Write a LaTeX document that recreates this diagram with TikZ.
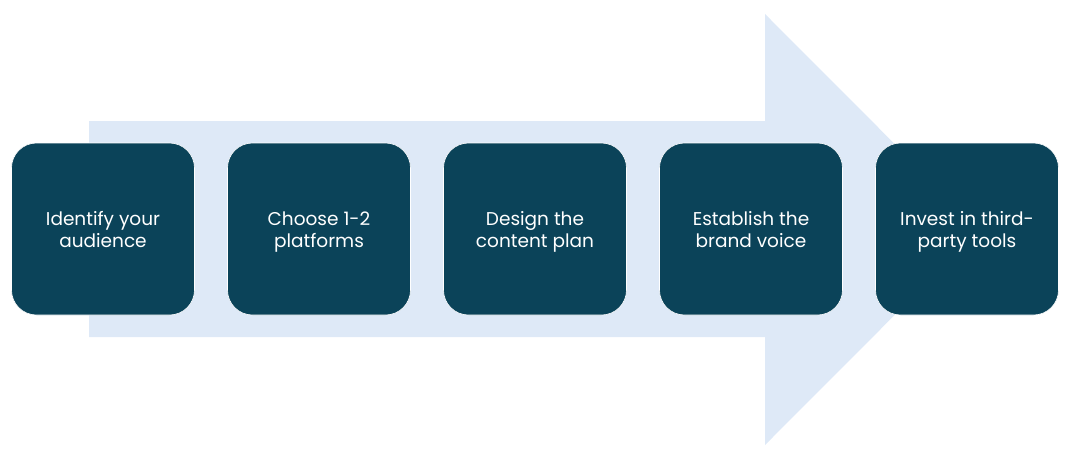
\documentclass[tikz,border=0pt]{standalone}
\usepackage{fontspec}
\setmainfont{Poppins}
\definecolor{boxc}{HTML}{0B4359}
\definecolor{arrowc}{HTML}{DEE9F7}
\newcommand\topstrut{\rule{0pt}{20.6pt}}
\newcommand\botstrut{\rule[-6.6pt]{0pt}{6.6pt}}
\begin{document}
\begin{tikzpicture}[x=1pt,y=-1pt,
  stepbox/.style={fill=boxc,draw=white,line width=0.6pt,rounded corners=25pt,minimum width=183pt,minimum height=172pt,
    text=white,align=center,font=\fontsize{18.5}{22}\selectfont,inner sep=0pt}]
\useasboundingbox (0,0) rectangle (1075,460);
\fill[arrowc] (89,121) -- (765,121) -- (765,14) -- (980,229.5) -- (765,445) -- (765,337) -- (89,337) -- cycle;
\node[stepbox] (s1) at (103,229) {\topstrut Identify your\\audience\botstrut};
\node[stepbox] (s2) at (319,229) {\topstrut Choose 1-2\\platforms\botstrut};
\node[stepbox] (s3) at (535,229) {\topstrut Design the\\content plan\botstrut};
\node[stepbox] (s4) at (751,229) {\topstrut Establish the\\brand voice\botstrut};
\node[stepbox] (s5) at (967,229) {\topstrut Invest in third-\\party tools\botstrut};
\end{tikzpicture}
\end{document}
